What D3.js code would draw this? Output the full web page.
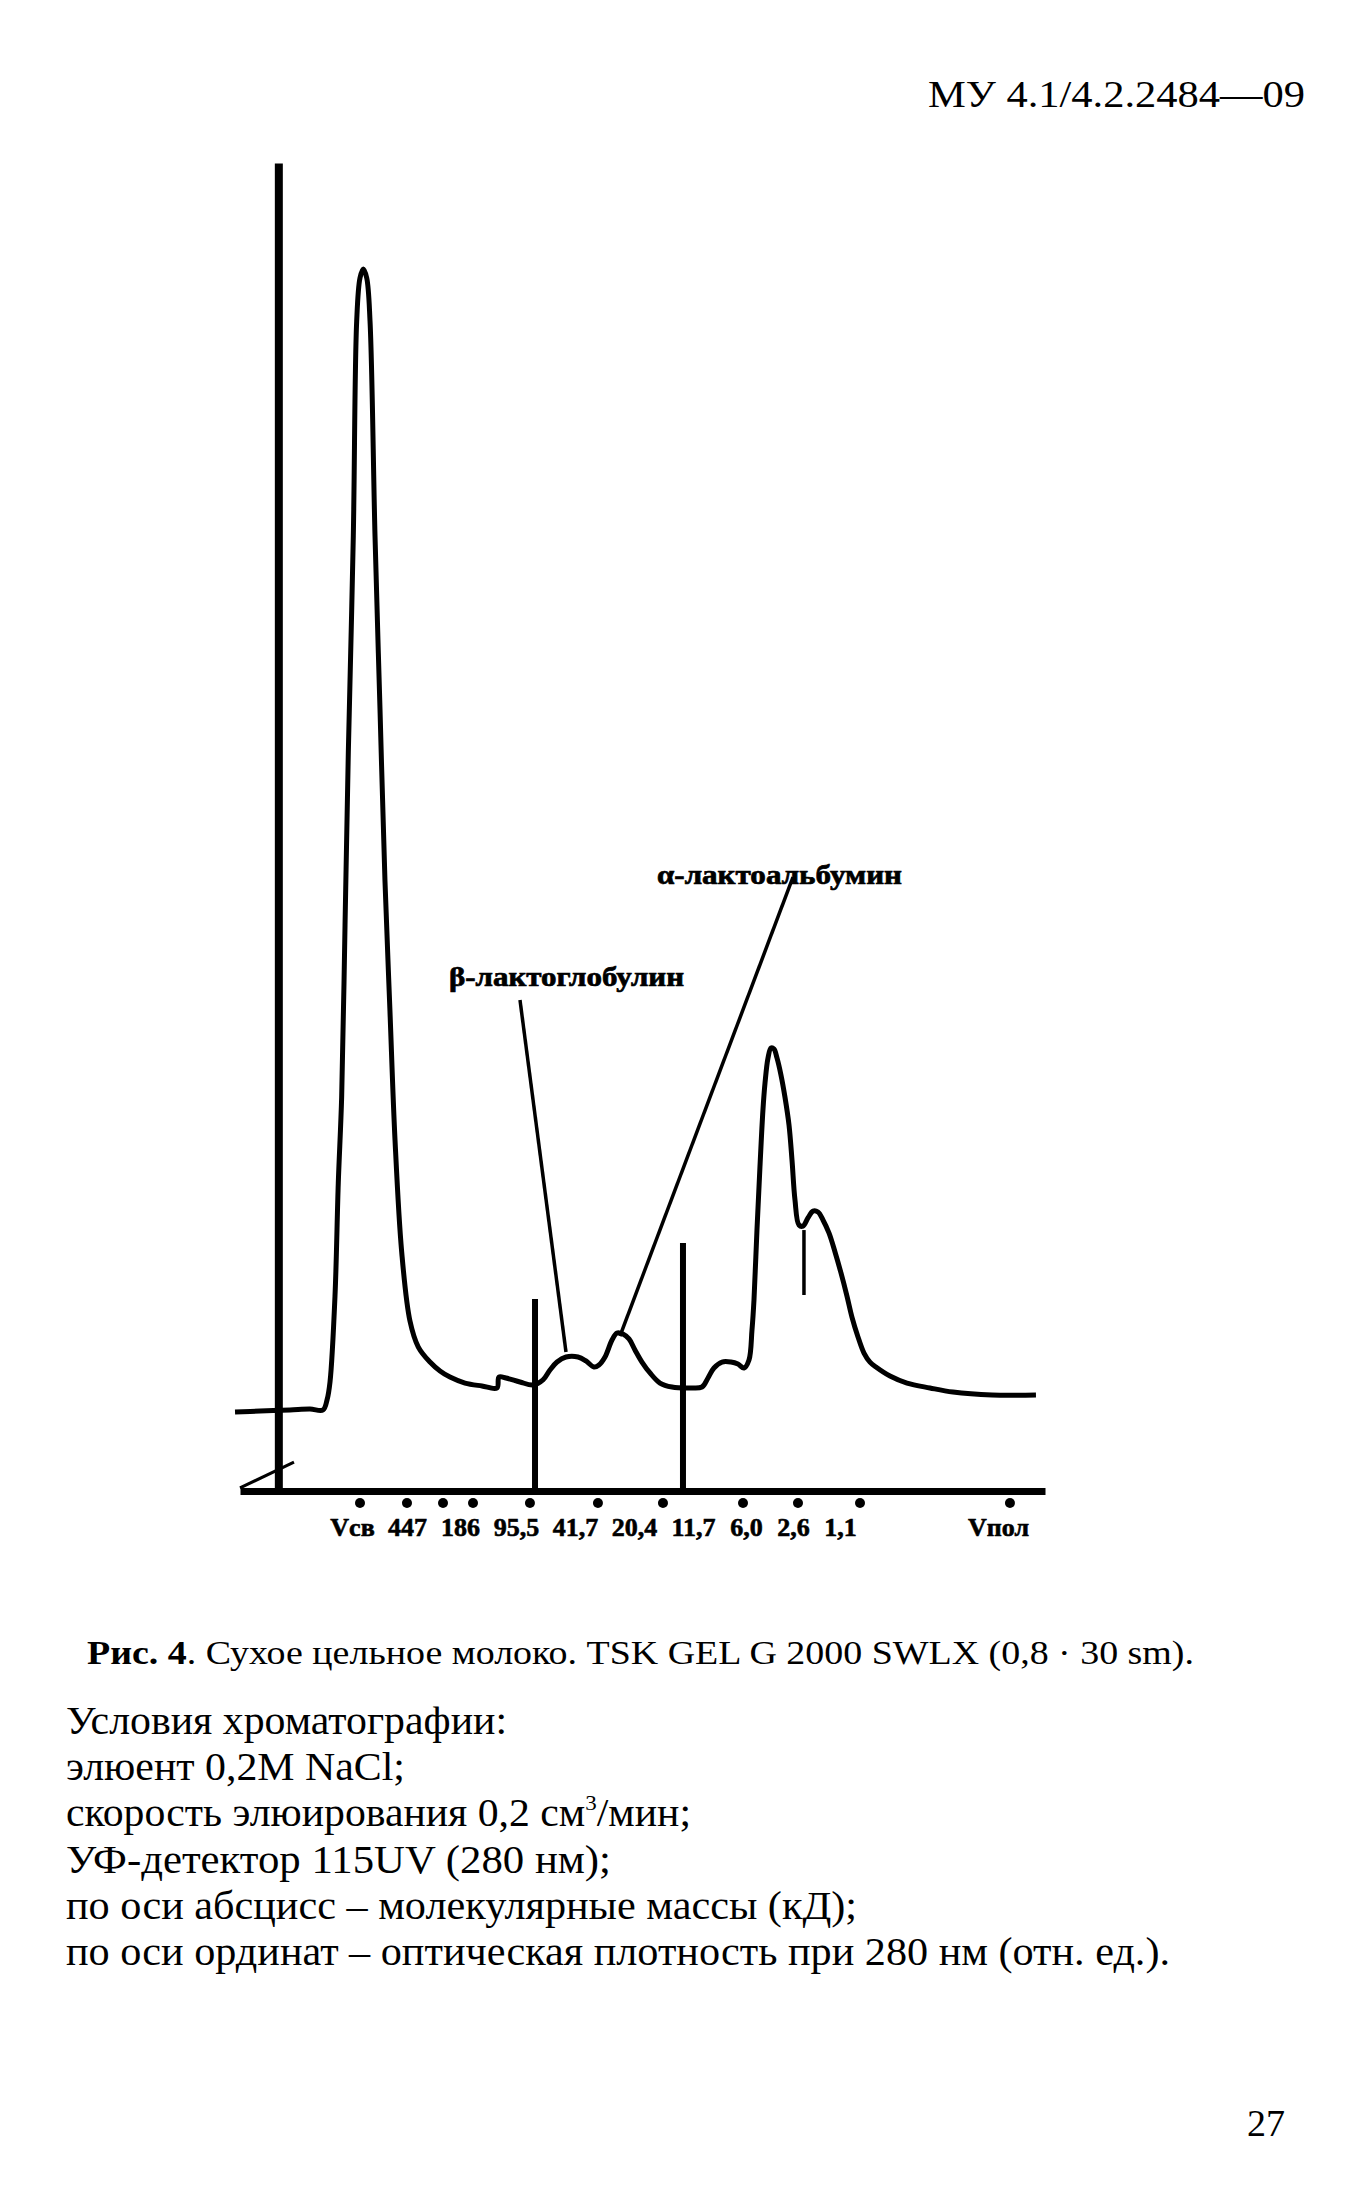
<!DOCTYPE html>
<html><head><meta charset="utf-8">
<script src="https://cdn.jsdelivr.net/npm/d3@7"></script>
<style>
body{margin:0;background:#fff}
svg{display:block}
text{font-family:"Liberation Serif","Times New Roman",serif;fill:#000}
</style>
</head><body>
<svg id="c" width="1371" height="2190"></svg>
<script>
// ---- data (elution position in arbitrary units, optical density in relative units) ----
const elution = [-5.65,-2.39,1.52,4.13,5.83,6.35,6.74,7.39,7.82,8.26,8.70,9.13,9.78,10.22,10.65,11.08,11.53,11.96,12.61,13.26,13.91,14.56,15.22,16.09,17.17,18.26,19.78,21.09,22.39,24.35,26.56,28.52,28.78,29.69,31.52,33.22,34.52,35.43,36.35,37.52,39.09,40.13,41.17,41.82,42.61,43.52,44.17,44.95,45.74,46.52,47.43,48.48,49.78,51.35,53.69,55.26,56.04,56.82,57.87,59.04,59.95,60.74,61.39,61.78,62.04,62.43,62.82,63.21,63.48,63.87,64.26,64.65,65.04,65.56,66.08,66.61,67.00,67.39,67.91,68.43,69.08,69.74,70.39,71.04,71.82,72.61,73.39,74.17,74.82,75.61,76.39,77.17,77.95,79.78,82.00,85.00,88.00,93.08,98.82];
const density = [5.95,6.02,6.10,6.17,6.10,6.85,8.21,14.68,23.19,29.67,42.62,55.65,71.91,88.10,91.34,92.02,91.34,88.10,71.91,58.89,45.93,36.14,26.43,18.00,12.80,10.84,9.71,9.04,8.58,8.13,7.91,7.76,8.58,8.51,8.21,7.98,8.36,9.11,9.71,10.09,10.09,9.79,9.34,9.49,10.09,11.37,11.90,11.82,11.45,10.62,9.71,8.89,8.13,7.83,7.76,7.83,8.51,9.26,9.71,9.71,9.56,9.26,9.86,12.12,14.38,19.65,24.40,28.69,30.72,32.61,33.36,33.28,32.61,31.33,29.67,27.56,24.92,21.91,20.03,19.95,20.56,21.08,21.01,20.41,19.43,18.00,16.42,14.68,13.10,11.60,10.39,9.71,9.34,8.66,8.13,7.76,7.45,7.23,7.23];

// molecular mass tick labels (kD) and their positions along the axis
const massLabels = ["Vсв","447","186","95,5","41,7","20,4","11,7","6,0","2,6","1,1","Vпол"];
const massLabelPos = [9.61,16.78,23.69,31.0,38.69,46.39,54.08,61.0,67.13,73.26,93.87];
// calibration dots under the axis
const calibDots = [10.65,16.78,21.48,25.39,32.82,41.69,50.17,60.61,67.78,75.87,95.43];

// vertical marker lines: position, top, bottom
const markerPos = [33.48,52.78,68.56];
const markerTop = [14.46,18.67,19.65];
const markerBottom = [0,0,14.76];

// peak annotations
const annoText = ["β-лактоглобулин","α-лактоальбумин"];
const annoTextPos = [[22.26,38.03],[49.39,45.71]];
const annoFrom = [[31.52,36.97],[67.13,46.23]];
const annoTo = [[37.52,10.47],[44.56,11.67]];

const header = "МУ 4.1/4.2.2484—09";
const conditions = ["Условия хроматографии:","элюент 0,2M NaCl;","скорость элюирования 0,2 см|3|/мин;","УФ-детектор 115UV (280 нм);","по оси абсцисс – молекулярные массы (кД);","по оси ординат – оптическая плотность при 280 нм (отн. ед.)."];
const pageNo = "27";

// ---- drawing ----
const svg = d3.select("#c");
const x = d3.scaleLinear().domain([-5,100]).range([240,1045]);
const y = d3.scaleLinear().domain([0,100]).range([1491,163]);

// header
svg.append("text").attr("x",928).attr("y",107).attr("font-size",37)
  .attr("textLength",377).attr("lengthAdjust","spacingAndGlyphs").text(header);

// y axis
const yAxis = d3.axisLeft(y).tickValues([]).tickSizeOuter(0);
const gy = svg.append("g").attr("transform",`translate(${x(0)},0)`).call(yAxis);
gy.select(".domain").attr("stroke","#000").attr("stroke-width",8);

// x axis
const xAxis = d3.axisBottom(x).tickValues(massLabelPos).tickFormat((d,i)=>massLabels[i]).tickSize(0).tickSizeOuter(0);
const gx = svg.append("g").attr("transform",`translate(0,${y(0)})`).call(xAxis);
gx.select(".domain").attr("stroke","#000").attr("stroke-width",7);
gx.selectAll(".tick text").attr("y",45).attr("dy",0)
  .attr("font-family","'Liberation Serif','Times New Roman',serif")
  .attr("font-weight","bold").attr("font-size",26).attr("fill","#000")
  .attr("stroke","#000").attr("stroke-width",0.6);

// slash mark at the axes corner
svg.append("line").attr("x1",x(-5)).attr("y1",y(0.23)).attr("x2",x(2.04)).attr("y2",y(2.18))
  .attr("stroke","#000").attr("stroke-width",3);

// calibration dots
svg.append("g").selectAll("circle").data(calibDots).join("circle")
  .attr("cx",d=>x(d)).attr("cy",y(0)+12).attr("r",5).attr("fill","#000");

// chromatogram
const line = d3.line().x(d=>x(d[0])).y(d=>y(d[1])).curve(d3.curveCatmullRom.alpha(0.5));
svg.append("path").datum(elution.map((u,i)=>[u,density[i]])).attr("d",line)
  .attr("fill","none").attr("stroke","#000").attr("stroke-width",5).attr("stroke-linejoin","round");

// vertical markers
svg.append("g").selectAll("line").data(markerPos).join("line")
  .attr("x1",d=>x(d)).attr("x2",d=>x(d))
  .attr("y1",(d,i)=>y(markerTop[i])).attr("y2",(d,i)=>y(markerBottom[i]))
  .attr("stroke","#000").attr("stroke-width",(d,i)=>i<2?6:3.5);

// annotations
annoText.forEach((t,i)=>{
  svg.append("line").attr("x1",x(annoFrom[i][0])).attr("y1",y(annoFrom[i][1]))
    .attr("x2",x(annoTo[i][0])).attr("y2",y(annoTo[i][1]))
    .attr("stroke","#000").attr("stroke-width",3.5);
  svg.append("text").attr("x",x(annoTextPos[i][0])).attr("y",y(annoTextPos[i][1]))
    .attr("font-weight","bold").attr("font-size",27)
    .attr("stroke","#000").attr("stroke-width",0.7)
    .attr("textLength",i===0?235:245).attr("lengthAdjust","spacingAndGlyphs").text(t);
});

// caption
const cap = svg.append("text").attr("x",87).attr("y",1664).attr("font-size",33)
  .attr("textLength",1107).attr("lengthAdjust","spacingAndGlyphs");
cap.append("tspan").attr("font-weight","bold").text("Рис. 4");
cap.append("tspan").text(". Сухое цельное молоко. TSK GEL G 2000 SWLX (0,8 · 30 sm).");

// conditions
const condWidths = [441,339,625,545,791,1104];
conditions.forEach((c,i)=>{
  const t = svg.append("text").attr("x",66).attr("y",1734+i*46.2).attr("font-size",40)
    .attr("textLength",condWidths[i]).attr("lengthAdjust","spacingAndGlyphs");
  const parts = c.split("|");
  if(parts.length===3){
    t.append("tspan").text(parts[0]);
    t.append("tspan").attr("font-size",22).attr("dy",-16).text(parts[1]);
    t.append("tspan").attr("dy",16).text(parts[2]);
  } else t.text(c);
});

// page number
svg.append("text").attr("x",1247).attr("y",2136).attr("font-size",38).text(pageNo);
</script>
</body></html>
